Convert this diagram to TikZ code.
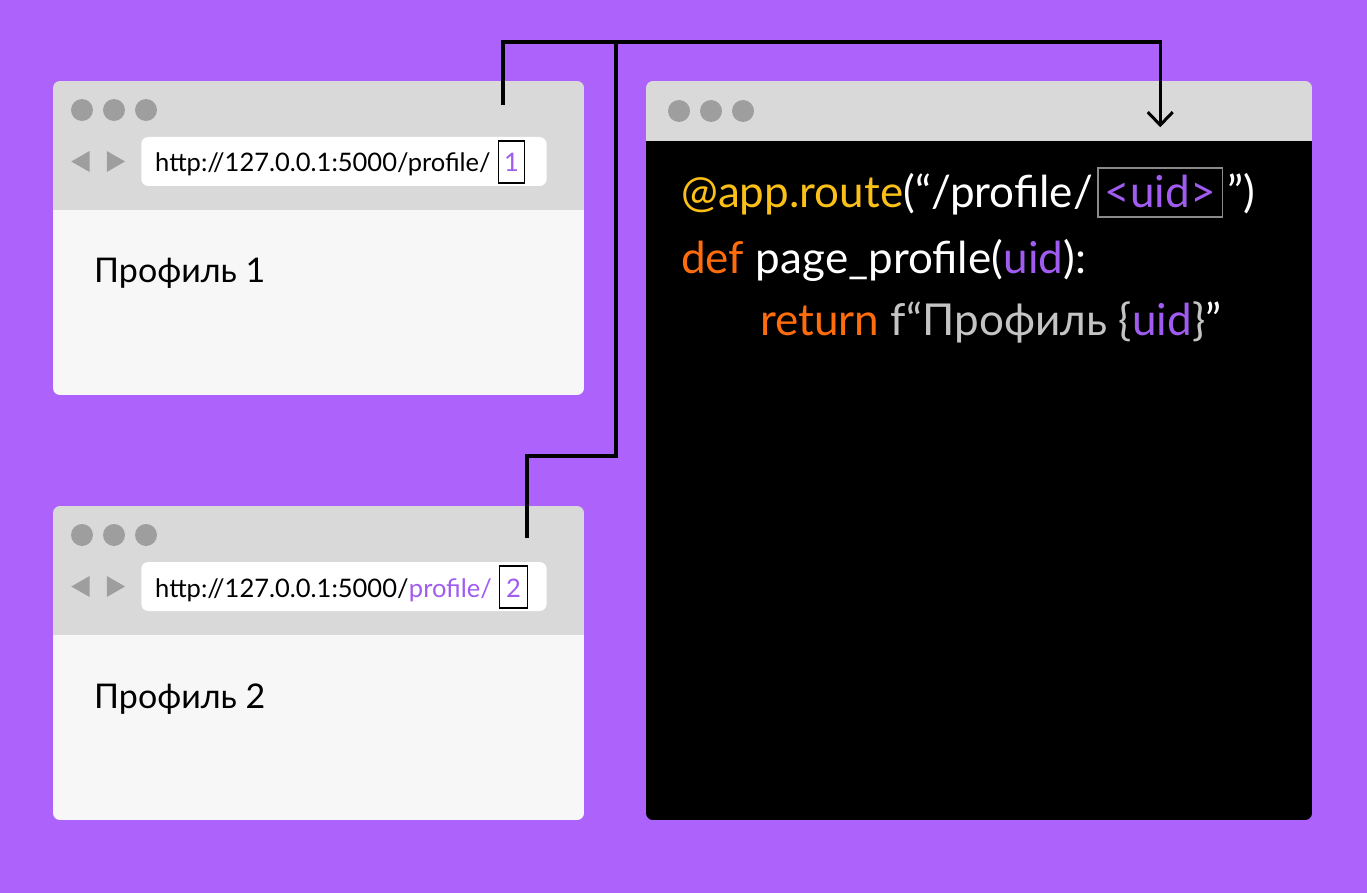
\documentclass[tikz,border=0pt]{standalone}
\usepackage{fontspec}
\setmainfont{Lato}
\usetikzlibrary{arrows.meta,calc}

\definecolor{bg}{RGB}{173,98,252}
\definecolor{chrome}{RGB}{217,217,217}
\definecolor{page}{RGB}{247,247,248}
\definecolor{knob}{RGB}{158,158,158}
\definecolor{accent}{RGB}{160,92,240}
\definecolor{kwyellow}{RGB}{250,192,24}
\definecolor{kworange}{RGB}{255,108,12}
\definecolor{strgray}{RGB}{196,196,196}
\definecolor{uidframe}{RGB}{138,138,138}

\newcommand\urlfont{\fontsize{25.5}{30}\selectfont}
\newcommand\pagefont{\fontsize{34}{40}\selectfont}
\newcommand\codefont{\fontsize{44}{52}\selectfont}

\tikzset{
  txt/.style={inner sep=0pt, anchor=base west},
  urltext/.style={txt, font=\urlfont},
  pagetext/.style={txt, font=\pagefont, black},
  codetext/.style={txt, font=\codefont, white},
  numbox/.style={draw=black, line width=1.3pt, anchor=base west, font=\urlfont,
    text=accent, inner xsep=0pt, inner ysep=0pt, text height=31pt, text depth=11pt,
    minimum width=26pt, align=center},
  conn/.style={line width=3.3pt, black},
  % window chrome of a small browser: frame, traffic dots, arrows, address bar
  browser/.pic={
    \begin{scope}
      \clip[rounded corners=7pt] (0,0) rectangle (531,314);
      \fill[chrome] (0,0) rectangle (531,129);
      \fill[page] (0,129) rectangle (531,314);
    \end{scope}
    \foreach \x in {29,61,93} \fill[knob] (\x,29) circle (11pt);
    \fill[knob] (36.6,70) -- (36.6,91) -- (18.3,80.5) -- cycle;
    \fill[knob] (53.8,70) -- (53.8,91) -- (72,80.5) -- cycle;
    \fill[white, rounded corners=7pt] (88.3,56) rectangle (493.6,105);
  }
}

\begin{document}
\begin{tikzpicture}[x=1pt,y=-1pt]
\fill[bg] (0,0) rectangle (1367,893);
\useasboundingbox (0,0) rectangle (1367,893);

% two browser windows
\pic at (53,81) {browser};
\pic at (53,506) {browser};

% first browser contents
\node[urltext, black] (url1) at (155,172) {http://127.0.0.1:5000/profile/};
\node[numbox] (num1) at ($(url1.base east)+(7,0)$) {1};
\node[pagetext] (page1) at (94,283) {Профиль 1};

% second browser contents
\node[urltext, black] (url2a) at (155,597) {http://127.0.0.1:5000/};
\node[urltext, accent] (url2b) at (url2a.base east) {profile/};
\node[numbox, minimum width=28pt] (num2) at ($(url2b.base east)+(7,0)$) {2};
\node[pagetext] (page2) at (94,708) {Профиль 2};

% code window
\begin{scope}
  \clip[rounded corners=7pt] (646,81) rectangle (1312,820);
  \fill[chrome] (646,81) rectangle (1312,141);
  \fill[black] (646,141) rectangle (1312,820);
\end{scope}
\foreach \x in {679,711,743} \fill[knob] (\x,111) circle (11pt);

% line 1
\node[codetext, kwyellow] (c1a) at (681,208) {@app.route};
\node[codetext] (c1b) at (c1a.base east) {(“/profile/};
\node[codetext, text=accent, draw=uidframe, line width=1.5pt, inner xsep=7pt,
      text height=40pt, text depth=9pt] (uid) at ($(c1b.base east)+(4,0)$) {<uid>};
\node[codetext] (c1c) at ($(uid.base east)+(4,0)$) {”)};

% line 2
\node[codetext, kworange] (c2a) at (681,273) {def};
\node[codetext] (c2b) at (c2a.base east) {\ page\_profile(};
\node[codetext, accent] (c2c) at (c2b.base east) {uid};
\node[codetext] (c2d) at (c2c.base east) {):};

% line 3
\node[codetext, kworange] (c3a) at (760,335) {return};
\node[codetext, strgray] (c3b) at (c3a.base east) {\ f“Профиль \{};
\node[codetext, accent] (c3c) at (c3b.base east) {uid};
\node[codetext, strgray] (c3d) at (c3c.base east) {\}};
\node[codetext] (c3e) at (c3d.base east) {”};

% connectors
\coordinate (s1) at (503,105);
\coordinate (s2) at (527,538);
\coordinate (j) at (616,42);
\coordinate (bend) at (616,456);
\coordinate (tip) at ($(uid.north)+(0,-40)$);
\draw[conn, -{Straight Barb[length=13pt,width=25pt,line width=3pt]}]
  (s1) |- (j) -| (tip);
\draw[conn] (s2) |- (bend) -- (j);
\end{tikzpicture}
\end{document}
